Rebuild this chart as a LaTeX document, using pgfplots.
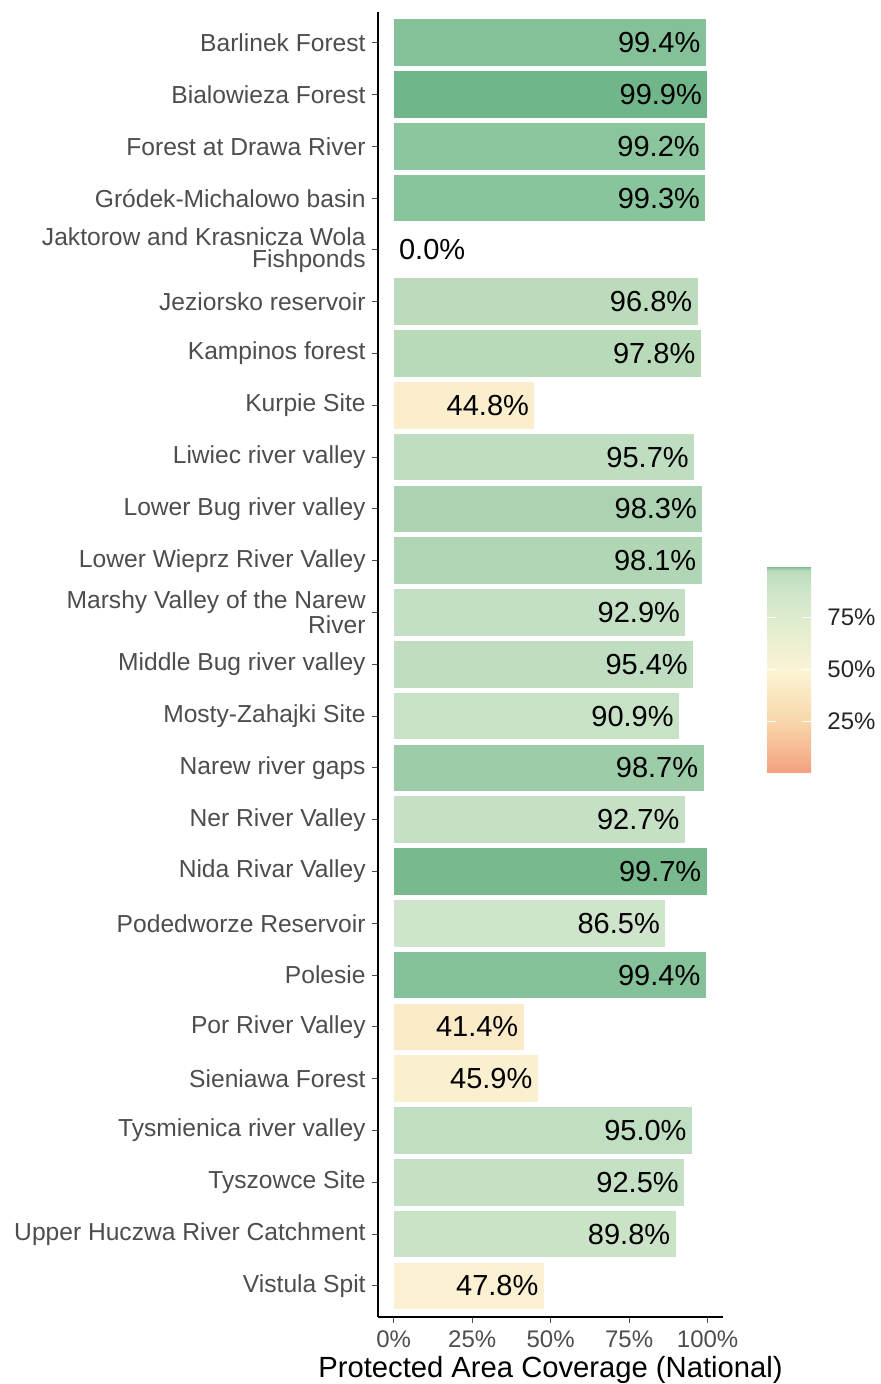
\documentclass[border=0pt]{standalone}
\usepackage{pgfplots}
\pgfplotsset{compat=1.18}
\usepackage{fontspec}
\setmainfont{Liberation Sans}
\definecolor{axisgray}{HTML}{4D4D4D}

\pgfplotsset{
  colormap={coverage}{
    rgb255(0pt)=(244,160,128);
    rgb255(250pt)=(248,215,170);
    rgb255(500pt)=(251,244,214);
    rgb255(750pt)=(221,235,205);
    rgb255(865pt)=(207,229,203);
    rgb255(910pt)=(200,226,198);
    rgb255(950pt)=(192,222,194);
    rgb255(970pt)=(188,219,189);
    rgb255(978pt)=(184,218,185);
    rgb255(981pt)=(176,214,181);
    rgb255(983pt)=(171,211,178);
    rgb255(987pt)=(156,204,168);
    rgb255(993pt)=(136,196,156);
    rgb255(997pt)=(120,186,142);
    rgb255(1000pt)=(109,180,136)
  },
  % one bar; its colour is looked up in the colormap (value given per mille)
  covbar/.style={
    xbar, draw=none,
    color of colormap={#1 of coverage}, fill,
    point meta=x,
    nodes near coords={\pgfmathprintnumber[fixed,fixed zerofill,precision=1]{\pgfplotspointmeta}\%},
    every node near coord/.append style={
        anchor=east, xshift=-2.5pt, inner sep=0pt,
        font=\fontsize{14.5}{16}\selectfont, text=black,
        /pgf/number format/assume math mode=true},
  },
}

\begin{document}
\begin{tikzpicture}
\useasboundingbox (0,0) rectangle (440pt,692pt);
\begin{axis}[
    at={(189pt,33.5pt)}, anchor=south west,
    scale only axis,
    width=172.5pt, height=652.7pt,
    xbar, bar width=0.9, bar shift=0pt,
    xmin=-5, xmax=104.9,
    ymin=-0.6, ymax=24.6,
    axis lines=left,
    axis line style={-, line width=0.9pt, black},
    xtick={0,25,50,75,100},
    xticklabel={\pgfmathprintnumber{\tick}\%},
    ytick={0,...,24},
    yticklabels={
      Vistula Spit,
      Upper Huczwa River Catchment,
      Tyszowce Site,
      Tysmienica river valley,
      Sieniawa Forest,
      Por River Valley,
      Polesie,
      Podedworze Reservoir,
      Nida Rivar Valley,
      Ner River Valley,
      Narew river gaps,
      Mosty-Zahajki Site,
      Middle Bug river valley,
      {Marshy Valley of the Narew\\River},
      Lower Wieprz River Valley,
      Lower Bug river valley,
      Liwiec river valley,
      Kurpie Site,
      Kampinos forest,
      Jeziorsko reservoir,
      {Jaktorow and Krasnicza Wola\\Fishponds},
      Gródek-Michalowo basin,
      Forest at Drawa River,
      Bialowieza Forest,
      Barlinek Forest},
    tick align=outside,
    major tick length=3pt,
    tick style={axisgray, line width=0.5pt},
    /pgf/number format/assume math mode=true,
    yticklabel style={font=\fontsize{12.3}{11}\selectfont, text=axisgray,
      align=right, inner sep=0pt, xshift=-3pt},
    xticklabel style={font=\fontsize{12}{14}\selectfont, text=axisgray,
      inner sep=0pt, yshift=-3.5pt},
    xlabel={Protected Area Coverage (National)},
    xlabel style={font=\fontsize{14.6}{16}\selectfont, inner sep=0pt, yshift=-4.5pt},
    colormap name=coverage,
    point meta min=0, point meta max=100,
    colorbar,
    colorbar/width=22pt,
    colorbar style={
      at={(parent axis.east)}, anchor=west,
      xshift=13.5pt, yshift=-2.6pt,
      height=103.5pt,
      ytick={25,50,75},
      yticklabel={\pgfmathprintnumber{\tick}\%},
      yticklabel pos=right,
      ytick pos=both,
      axis line style={draw=none},
      tick align=inside,
      major tick length=4.5pt,
      tick style={white, line width=0.6pt},
      /pgf/number format/assume math mode=true,
      yticklabel style={font=\fontsize{12}{14}\selectfont, text=black!85,
        inner sep=0pt, xshift=8pt},
    },
]

\addplot[covbar=478] coordinates {(47.8,0)};
\addplot[covbar=898] coordinates {(89.8,1)};
\addplot[covbar=925] coordinates {(92.5,2)};
\addplot[covbar=950] coordinates {(95.0,3)};
\addplot[covbar=459] coordinates {(45.9,4)};
\addplot[covbar=414] coordinates {(41.4,5)};
\addplot[covbar=994] coordinates {(99.4,6)};
\addplot[covbar=865] coordinates {(86.5,7)};
\addplot[covbar=997] coordinates {(99.7,8)};
\addplot[covbar=927] coordinates {(92.7,9)};
\addplot[covbar=987] coordinates {(98.7,10)};
\addplot[covbar=909] coordinates {(90.9,11)};
\addplot[covbar=954] coordinates {(95.4,12)};
\addplot[covbar=929] coordinates {(92.9,13)};
\addplot[covbar=981] coordinates {(98.1,14)};
\addplot[covbar=983] coordinates {(98.3,15)};
\addplot[covbar=957] coordinates {(95.7,16)};
\addplot[covbar=448] coordinates {(44.8,17)};
\addplot[covbar=978] coordinates {(97.8,18)};
\addplot[covbar=968] coordinates {(96.8,19)};
\addplot[covbar=993] coordinates {(99.3,21)};
\addplot[covbar=992] coordinates {(99.2,22)};
\addplot[covbar=999] coordinates {(99.9,23)};
\addplot[covbar=994] coordinates {(99.4,24)};

% the empty bar: its label stands to the right of zero
\addplot[covbar=0, fill=none,
    every node near coord/.append style={anchor=west, xshift=5pt}]
    coordinates {(0.0,20)};

\end{axis}
\end{tikzpicture}
\end{document}
